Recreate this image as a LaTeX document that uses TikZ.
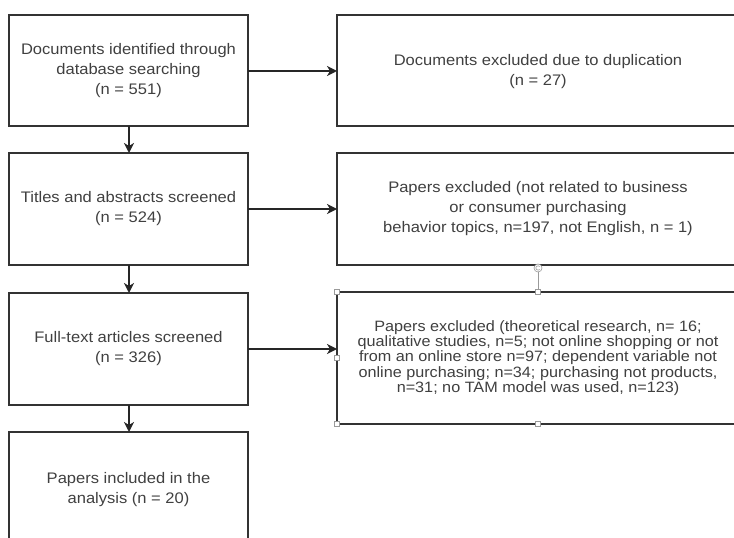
\documentclass[tikz,border=0pt]{standalone}
\usepackage{fontspec}
\setmainfont{Liberation Sans}[FakeStretch=1.08]
\usetikzlibrary{arrows.meta}
\definecolor{linec}{HTML}{333333}
\definecolor{textc}{HTML}{404040}
\definecolor{handlec}{HTML}{9A9A9A}
\begin{document}
\begin{tikzpicture}[x=1bp,y=-1bp,
  box/.style={draw=linec,line width=1.4bp,fill=white,inner sep=0pt},
  lbl/.style={align=center,text=textc,font=\fontsize{15.3bp}{20bp}\selectfont,inner sep=0pt},
  lbltight/.style={align=center,text=textc,font=\fontsize{15bp}{15.2bp}\selectfont,inner sep=0pt},
  arr/.style={draw=black!85,line width=1.8bp,-{Stealth[length=10bp,width=10bp,inset=3bp]}},
  handle/.style={draw=handlec,fill=white,line width=0.6bp,minimum size=5bp,inner sep=0pt}]
\useasboundingbox (0,0) rectangle (734,538);
\begin{scope}
\clip (0,0) rectangle (734,538);
% left column boxes
\draw[box] (9,15) rectangle (248,126);
\draw[box] (9,153) rectangle (248,265);
\draw[box] (9,293) rectangle (248,405);
\draw[box] (9,432) rectangle (248,548);
% right column boxes
\draw[box] (337,15) rectangle (739,126);
\draw[box] (337,153) rectangle (739,265);
\draw[box] (337,292) rectangle (739,424);
% anchor coordinates
\coordinate (L1) at (128.5,71);
\coordinate (L2) at (128.5,209);
\coordinate (L3) at (128.5,349);
\coordinate (L4) at (128.5,490);
\coordinate (R1) at (538,71.5);
\coordinate (R2) at (538,209);
\coordinate (R3) at (538,358);
\coordinate (L1s) at (129,126);
\coordinate (L2n) at (129,153);
\coordinate (L2s) at (129,265);
\coordinate (L3n) at (129,293);
\coordinate (L3s) at (129,405);
\coordinate (L4n) at (129,432);
\coordinate (L1e) at (248,71);
\coordinate (R1w) at (337,71);
\coordinate (L2e) at (248,209);
\coordinate (R2w) at (337,209);
\coordinate (L3e) at (248,349);
\coordinate (R3w) at (337,349);
% texts
\node[lbl] (t1) at (L1) {Documents identified through\\database searching\\(n = 551)};
\node[lbl] (t2) at (L2) {Titles and abstracts screened\\(n = 524)};
\node[lbl] (t3) at (L3) {Full-text articles screened\\(n = 326)};
\node[lbl] (t4) at (L4) {Papers included in the\\analysis (n = 20)};
\node[lbl] (r1) at (R1) {Documents excluded due to duplication\\(n = 27)};
\node[lbl] (r2) at (R2) {Papers excluded (not related to business\\or consumer purchasing\\behavior topics, n=197, not English, n = 1)};
\node[lbltight] (r3) at (R3) {Papers excluded (theoretical research, n= 16;\\qualitative studies, n=5; not online shopping or not\\from an online store n=97; dependent variable not\\online purchasing; n=34; purchasing not products,\\n=31; no TAM model was used, n=123)};
% arrows
\draw[arr] (L1s) -- (L2n);
\draw[arr] (L2s) -- (L3n);
\draw[arr] (L3s) -- (L4n);
\draw[arr] (L1e) -- (R1w);
\draw[arr] (L2e) -- (R2w);
\draw[arr] (L3e) -- (R3w);
% selection handles on the last excluded box
\coordinate (rot) at (538,268);
\coordinate (topmid) at (538,292);
\draw[handlec,line width=0.8bp] (rot) -- (topmid);
\node[draw=handlec,fill=white,circle,minimum size=8bp,inner sep=0pt,line width=0.6bp] (rh) at (rot) {};
\draw[handlec,line width=0.6bp] ([shift={(40:2.2bp)}]rot) arc[start angle=40,end angle=320,radius=2.2bp];
\node[handle] (h1) at (337,292) {};
\node[handle] (h2) at (538,292) {};
\node[handle] (h3) at (337,358) {};
\node[handle] (h4) at (337,424) {};
\node[handle] (h5) at (538,424) {};
\end{scope}
\end{tikzpicture}
\end{document}
